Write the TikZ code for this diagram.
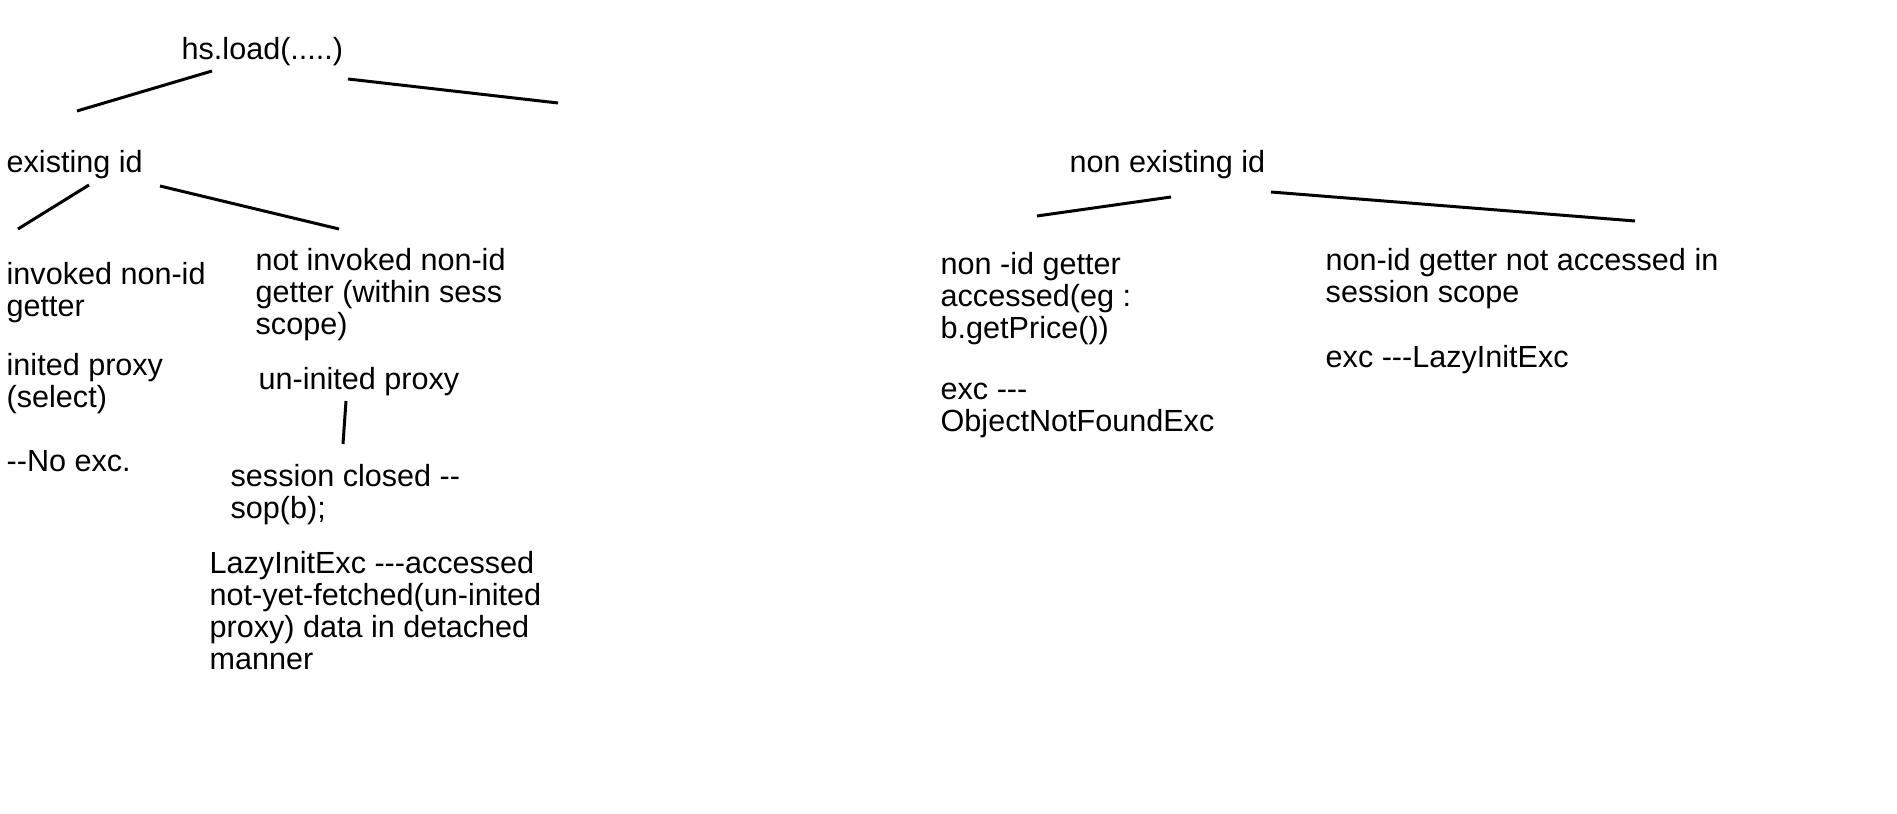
\documentclass[tikz,border=0pt]{standalone}
\usepackage{fontspec}
\newfontfamily\treefont{Liberation Sans}

\begin{document}
\begin{tikzpicture}[x=0.1mm, y=-0.1mm,
    every node/.style={anchor=north west, inner sep=0pt, align=left,
      font=\treefont\fontsize{8.7}{9.1}\selectfont},
    branch/.style={line width=0.85pt}]
  \useasboundingbox (0,0) rectangle (1897,814);
  % root
  \node (load) at (181,37) {hs.load(.....)};
  % existing id branch
  \node (exist) at (6,150) {existing id};
  \node (inv) at (6,262) {invoked non-id\\getter};
  \node (inited) at (6,353) {inited proxy\\(select)};
  \node (noexc) at (6,450) {--No exc.};
  \node (notinv) at (255,248) {not invoked non-id\\getter (within sess\\scope)};
  \node (uninit) at (258,367) {un-inited proxy};
  \node (closed) at (230,464) {session closed --\\sop(b);};
  \node (lazy) at (209,551) {LazyInitExc ---accessed\\not-yet-fetched(un-inited\\proxy) data in detached\\manner};
  % non existing id branch
  \node (nonexist) at (1069,150) {non existing id};
  \node (acc) at (940,252) {non -id getter\\accessed(eg :\\b.getPrice())};
  \node (onf) at (940,382) {exc ---\\ObjectNotFoundExc};
  \node (notacc) at (1325,248) {non-id getter not accessed in\\session scope};
  \node (lazyexc) at (1325,345) {exc ---LazyInitExc};
  % line ends
  \coordinate (loadL) at (212,71);
  \coordinate (existT) at (77,111);
  \coordinate (loadR) at (348,79);
  \coordinate (nonexistT) at (558,103);
  \coordinate (existL) at (89,185);
  \coordinate (invT) at (18,229);
  \coordinate (existR) at (160,186);
  \coordinate (notinvT) at (339,229);
  \coordinate (uninitB) at (346,401);
  \coordinate (closedT) at (343,444);
  \coordinate (nonexistL) at (1171,197);
  \coordinate (accT) at (1037,216);
  \coordinate (nonexistR) at (1271,192);
  \coordinate (notaccT) at (1635,221);
  \draw[branch] (loadL) -- (existT);
  \draw[branch] (loadR) -- (nonexistT);
  \draw[branch] (existL) -- (invT);
  \draw[branch] (existR) -- (notinvT);
  \draw[branch] (uninitB) -- (closedT);
  \draw[branch] (nonexistL) -- (accT);
  \draw[branch] (nonexistR) -- (notaccT);
\end{tikzpicture}
\end{document}
